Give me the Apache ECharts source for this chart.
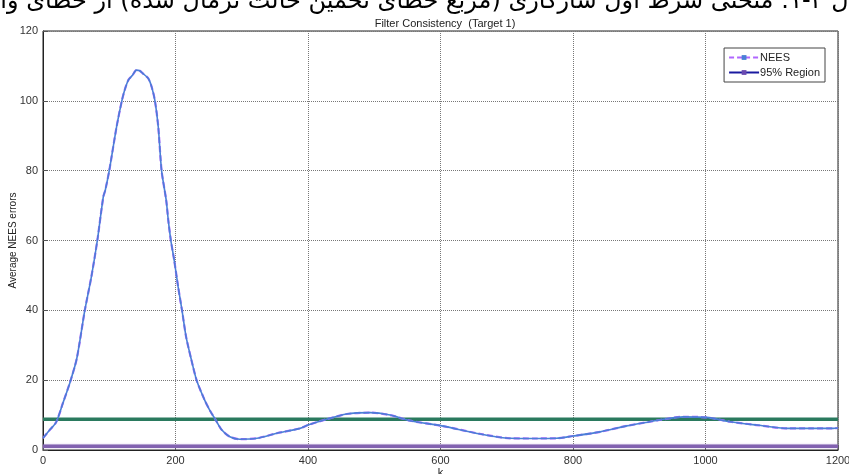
<!DOCTYPE html>
<html>
<head>
<meta charset="utf-8">
<script src="https://cdn.jsdelivr.net/npm/echarts@6/dist/echarts.min.js"></script>
<style>
  html, body { margin: 0; padding: 0; background: #fff; }
  #chart { width: 849px; height: 474px; }
</style>
</head>
<body>
<div id="chart"></div>
<script>
// Time steps k and the averaged NEES values for target 1
const kSteps = [0, 10, 20, 30, 41, 51, 63, 73, 82, 91, 94, 100, 111, 119, 124, 129, 135, 141, 146, 151, 159, 164, 169, 174, 179, 186, 189, 193, 198, 204, 210, 216, 224, 232, 244, 252, 260, 270, 282, 297, 323, 353, 388, 400, 428, 458, 494, 524, 554, 602, 660, 705, 740, 775, 800, 841, 881, 916, 931, 966, 1002, 1037, 1077, 1123, 1160, 1193, 1200];
const neesValues = [3.4, 5.7, 8.0, 13.4, 19.5, 26.2, 39.9, 49.6, 60, 72.5, 74.4, 80, 92.5, 100, 103.5, 106, 107.3, 108.8, 108.6, 107.8, 106.4, 104, 100, 92.5, 80, 71.5, 66, 60, 54.4, 46.7, 39.8, 32.4, 25.8, 19.9, 14.3, 11.3, 8.8, 5.7, 3.8, 3.1, 3.35, 4.8, 6.2, 7.15, 8.8, 10.3, 10.7, 10.0, 8.4, 6.9, 4.6, 3.35, 3.3, 3.35, 4.0, 5.2, 6.9, 8.1, 8.6, 9.5, 9.35, 8.1, 7.15, 6.2, 6.2, 6.2, 6.3];

// 95% consistency region bounds
const regionUpper = 8.8;
const regionLower = 1.1;

// Axis ranges and tick spacing
const kRange = [0, 1200];
const kTickStep = 200;
const neesRange = [0, 120];
const neesTickStep = 20;

const captionText = 'ل ۴-۱: منحنی شرط اول سازگاری (مربع خطای تخمین حالت نرمال شده) از خطای وا';
const plotTitle = 'Filter Consistency  (Target 1)';

const neesData = kSteps.map((k, i) => [k, neesValues[i]]);
const upperData = kRange.map(k => [k, regionUpper]);
const lowerData = kRange.map(k => [k, regionLower]);

const labelFont = '"Liberation Sans Narrow", "Liberation Sans", Arial, sans-serif';

const chart = echarts.init(document.getElementById('chart'), null, { renderer: 'canvas' });

chart.setOption({
  animation: false,
  backgroundColor: '#fff',
  title: {
    text: plotTitle,
    left: 440,
    top: 13,
    textAlign: 'center',
    textStyle: { fontFamily: labelFont, fontSize: 11, fontWeight: 'normal', color: '#222' }
  },
  graphic: [{
    type: 'text',
    left: 'center',
    top: -10,
    style: {
      text: '\u202B' + captionText + '\u202C',
      font: '24px "DejaVu Sans", sans-serif',
      fill: '#000'
    }
  }],
  legend: {
    right: 24,
    top: 48,
    orient: 'vertical',
    itemWidth: 30,
    itemHeight: 6,
    itemGap: 4,
    padding: [4, 5, 4, 4],
    borderColor: '#444',
    borderWidth: 1,
    backgroundColor: '#fff',
    textStyle: { fontFamily: labelFont, fontSize: 11, color: '#222', padding: [0, 0, 0, -4] },
    data: ['NEES', '95% Region']
  },
  grid: {
    left: 43, right: 11, top: 31, bottom: 24,
    containLabel: false,
    outerBoundsMode: 'none',
    show: true, borderColor: '#222', borderWidth: 1
  },
  xAxis: {
    type: 'value',
    min: kRange[0], max: kRange[1], interval: kTickStep,
    name: 'k', nameLocation: 'middle', nameGap: 17, nameMoveOverlap: false,
    nameTextStyle: { fontFamily: labelFont, fontSize: 11, color: '#222' },
    axisLine: { lineStyle: { color: '#222' } },
    axisTick: { inside: true, length: 5, lineStyle: { color: '#555' } },
    axisLabel: { fontFamily: labelFont, fontSize: 11, color: '#333', margin: 5, formatter: v => String(v) },
    splitLine: { show: true, lineStyle: { type: 'dotted', color: '#777' } }
  },
  yAxis: {
    type: 'value',
    min: neesRange[0], max: neesRange[1], interval: neesTickStep,
    name: 'Average NEES errors', nameLocation: 'middle', nameGap: 25, nameMoveOverlap: false,
    nameTextStyle: { fontFamily: labelFont, fontSize: 10, color: '#222' },
    axisLine: { lineStyle: { color: '#222' } },
    axisTick: { inside: true, length: 5, lineStyle: { color: '#555' } },
    axisLabel: { fontFamily: labelFont, fontSize: 11, color: '#333', margin: 5, formatter: v => String(v) },
    splitLine: { show: true, lineStyle: { type: 'dotted', color: '#777' } }
  },
  series: [
    // legend entries
    {
      name: 'NEES', type: 'line', data: [],
      symbol: 'rect', symbolSize: 3,
      itemStyle: { color: '#4a7fd6' },
      lineStyle: { color: '#b066ff', type: [5, 3], width: 1.5 }
    },
    {
      name: '95% Region', type: 'line', data: [],
      symbol: 'rect', symbolSize: 3,
      itemStyle: { color: '#6a4ab0' },
      lineStyle: { color: '#1a1aa0', width: 1.5 }
    },
    // region bounds
    {
      type: 'line', data: upperData, showSymbol: false, silent: true,
      lineStyle: { color: '#2a7a5e', width: 3.5 }, z: 3
    },
    {
      type: 'line', data: lowerData, showSymbol: false, silent: true,
      lineStyle: { color: '#8262b0', width: 3.5, shadowColor: 'rgba(170,140,210,0.6)', shadowBlur: 2 }, z: 3
    },
    // NEES curve: dashed violet with the blue trace on top
    {
      type: 'line', data: neesData, showSymbol: false, silent: true, smooth: 0.25,
      lineStyle: { color: '#b066ff', type: [6, 3], width: 2.2 }, z: 4
    },
    {
      type: 'line', data: neesData, showSymbol: false, silent: true, smooth: 0.25,
      lineStyle: { color: '#4a7fd6', width: 1.6 }, z: 5
    }
  ]
});
</script>
</body>
</html>
